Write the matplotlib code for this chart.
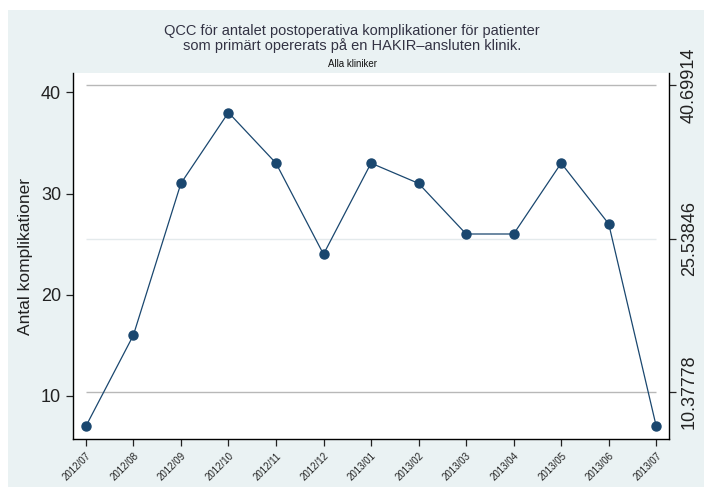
import numpy as np
import matplotlib.pyplot as plt
import matplotlib.patches as patches

plt.rcParams['font.family'] = ['Liberation Sans', 'DejaVu Sans']

months = ['2012/07', '2012/08', '2012/09', '2012/10', '2012/11', '2012/12',
          '2013/01', '2013/02', '2013/03', '2013/04', '2013/05', '2013/06', '2013/07']
counts = [7, 16, 31, 38, 33, 24, 33, 31, 26, 26, 33, 27, 7]
ucl = 40.69914
center = 25.53846
lcl = 10.37778

bg = '#eaf2f3'
navy = '#1a476f'

fig = plt.figure(figsize=(7.04, 4.87), dpi=100, facecolor='white')
# light background, leaving a thin white strip at top and left
fig.patches.append(patches.Rectangle((8 / 704, -0.01), 1, 1.01 - 10 / 487,
                                     transform=fig.transFigure, facecolor=bg,
                                     edgecolor='none', zorder=-10))

ax = fig.add_axes([0.1037, 0.0986, 0.8467, 0.7514])
ax.set_facecolor('white')

x = np.arange(len(months))

# control limits
ax.hlines([ucl, lcl], 0, len(months) - 1, color='#b8b8b8', lw=1.0, zorder=1)
ax.hlines(center, 0, len(months) - 1, color='#e4eaec', lw=1.0, zorder=1)

ax.plot(x, counts, color=navy, lw=0.9, marker='o', ms=6.5,
        markerfacecolor=navy, markeredgecolor=navy, zorder=3)

ax.set_xlim(-0.27, len(months) - 1 + 0.27)
ax.set_ylim(5.75, 41.9)

ax.set_xticks(x)
ax.set_xticklabels(months, rotation=45, ha='right', rotation_mode='anchor',
                   fontsize=7)
ax.set_yticks([10, 20, 30, 40])
ax.tick_params(axis='y', labelsize=13, length=5, width=0.9, colors='#222222')
ax.tick_params(axis='x', length=5, width=0.9, colors='#222222')
ax.set_ylabel('Antal komplikationer', fontsize=12.5, color='#222222', labelpad=6)

for s in ['top', 'right']:
    ax.spines[s].set_visible(False)
ax.spines['left'].set_linewidth(1.0)
ax.spines['bottom'].set_linewidth(1.0)

ax2 = ax.twinx()
ax2.set_ylim(ax.get_ylim())
ax2.set_yticks([ucl, center, lcl])
ax2.set_yticklabels(['40.69914', '25.53846', '10.37778'], rotation=90,
                    va='center', fontsize=13)
ax2.tick_params(axis='y', length=5, width=0.9, colors='#222222')
for s in ['top', 'left', 'bottom']:
    ax2.spines[s].set_visible(False)
ax2.spines['right'].set_linewidth(1.0)

fig.text(0.5, 0.951, 'QCC för antalet postoperativa komplikationer för patienter\n'
         'som primärt opererats på en HAKIR\u2013ansluten klinik.',
         ha='center', va='top', fontsize=10.5, color='#333344', linespacing=1.0)
fig.text(0.5, 0.868, 'Alla kliniker', ha='center', va='center', fontsize=7,
         color='#111111')

fig.savefig('out.png', dpi=100, facecolor='white')
